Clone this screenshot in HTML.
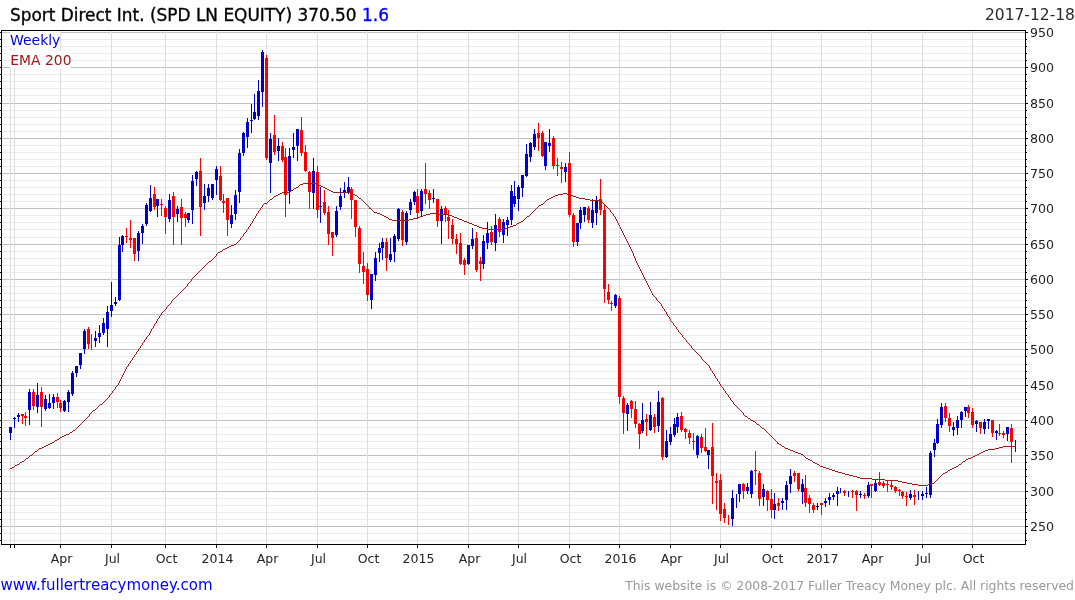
<!DOCTYPE html><html><head><meta charset="utf-8"><title>Sport Direct Int. chart</title><style>
html,body{margin:0;padding:0;background:#fff}body{width:1075px;height:600px;overflow:hidden;position:relative;font-family:"DejaVu Sans","Liberation Sans",sans-serif}
svg{position:absolute;left:0;top:0}text{font-family:"DejaVu Sans","Liberation Sans",sans-serif}
</style></head><body>
<svg width="1075" height="600" viewBox="0 0 1075 600">
<defs><mask id="tm"><rect x="0" y="0" width="1075" height="600" fill="#fff"/></mask></defs>
<rect x="0" y="0" width="1075" height="600" fill="#fff"/>
<g shape-rendering="crispEdges">
<rect x="2" y="540" width="1023" height="1" fill="#ececec"/>
<rect x="2" y="533" width="1023" height="1" fill="#ececec"/>
<rect x="2" y="519" width="1023" height="1" fill="#ececec"/>
<rect x="2" y="512" width="1023" height="1" fill="#ececec"/>
<rect x="2" y="505" width="1023" height="1" fill="#ececec"/>
<rect x="2" y="498" width="1023" height="1" fill="#ececec"/>
<rect x="2" y="483" width="1023" height="1" fill="#ececec"/>
<rect x="2" y="476" width="1023" height="1" fill="#ececec"/>
<rect x="2" y="469" width="1023" height="1" fill="#ececec"/>
<rect x="2" y="462" width="1023" height="1" fill="#ececec"/>
<rect x="2" y="448" width="1023" height="1" fill="#ececec"/>
<rect x="2" y="441" width="1023" height="1" fill="#ececec"/>
<rect x="2" y="434" width="1023" height="1" fill="#ececec"/>
<rect x="2" y="427" width="1023" height="1" fill="#ececec"/>
<rect x="2" y="413" width="1023" height="1" fill="#ececec"/>
<rect x="2" y="406" width="1023" height="1" fill="#ececec"/>
<rect x="2" y="399" width="1023" height="1" fill="#ececec"/>
<rect x="2" y="392" width="1023" height="1" fill="#ececec"/>
<rect x="2" y="378" width="1023" height="1" fill="#ececec"/>
<rect x="2" y="371" width="1023" height="1" fill="#ececec"/>
<rect x="2" y="364" width="1023" height="1" fill="#ececec"/>
<rect x="2" y="356" width="1023" height="1" fill="#ececec"/>
<rect x="2" y="342" width="1023" height="1" fill="#ececec"/>
<rect x="2" y="335" width="1023" height="1" fill="#ececec"/>
<rect x="2" y="328" width="1023" height="1" fill="#ececec"/>
<rect x="2" y="321" width="1023" height="1" fill="#ececec"/>
<rect x="2" y="307" width="1023" height="1" fill="#ececec"/>
<rect x="2" y="300" width="1023" height="1" fill="#ececec"/>
<rect x="2" y="293" width="1023" height="1" fill="#ececec"/>
<rect x="2" y="286" width="1023" height="1" fill="#ececec"/>
<rect x="2" y="272" width="1023" height="1" fill="#ececec"/>
<rect x="2" y="265" width="1023" height="1" fill="#ececec"/>
<rect x="2" y="258" width="1023" height="1" fill="#ececec"/>
<rect x="2" y="251" width="1023" height="1" fill="#ececec"/>
<rect x="2" y="237" width="1023" height="1" fill="#ececec"/>
<rect x="2" y="229" width="1023" height="1" fill="#ececec"/>
<rect x="2" y="222" width="1023" height="1" fill="#ececec"/>
<rect x="2" y="215" width="1023" height="1" fill="#ececec"/>
<rect x="2" y="201" width="1023" height="1" fill="#ececec"/>
<rect x="2" y="194" width="1023" height="1" fill="#ececec"/>
<rect x="2" y="187" width="1023" height="1" fill="#ececec"/>
<rect x="2" y="180" width="1023" height="1" fill="#ececec"/>
<rect x="2" y="166" width="1023" height="1" fill="#ececec"/>
<rect x="2" y="159" width="1023" height="1" fill="#ececec"/>
<rect x="2" y="152" width="1023" height="1" fill="#ececec"/>
<rect x="2" y="145" width="1023" height="1" fill="#ececec"/>
<rect x="2" y="131" width="1023" height="1" fill="#ececec"/>
<rect x="2" y="124" width="1023" height="1" fill="#ececec"/>
<rect x="2" y="117" width="1023" height="1" fill="#ececec"/>
<rect x="2" y="110" width="1023" height="1" fill="#ececec"/>
<rect x="2" y="95" width="1023" height="1" fill="#ececec"/>
<rect x="2" y="88" width="1023" height="1" fill="#ececec"/>
<rect x="2" y="81" width="1023" height="1" fill="#ececec"/>
<rect x="2" y="74" width="1023" height="1" fill="#ececec"/>
<rect x="2" y="60" width="1023" height="1" fill="#ececec"/>
<rect x="2" y="53" width="1023" height="1" fill="#ececec"/>
<rect x="2" y="46" width="1023" height="1" fill="#ececec"/>
<rect x="2" y="39" width="1023" height="1" fill="#ececec"/>
<rect x="2" y="526" width="1023" height="1" fill="#c0c0c0"/>
<rect x="2" y="491" width="1023" height="1" fill="#c0c0c0"/>
<rect x="2" y="455" width="1023" height="1" fill="#c0c0c0"/>
<rect x="2" y="420" width="1023" height="1" fill="#c0c0c0"/>
<rect x="2" y="385" width="1023" height="1" fill="#c0c0c0"/>
<rect x="2" y="349" width="1023" height="1" fill="#c0c0c0"/>
<rect x="2" y="314" width="1023" height="1" fill="#c0c0c0"/>
<rect x="2" y="279" width="1023" height="1" fill="#c0c0c0"/>
<rect x="2" y="244" width="1023" height="1" fill="#c0c0c0"/>
<rect x="2" y="208" width="1023" height="1" fill="#c0c0c0"/>
<rect x="2" y="173" width="1023" height="1" fill="#c0c0c0"/>
<rect x="2" y="138" width="1023" height="1" fill="#c0c0c0"/>
<rect x="2" y="103" width="1023" height="1" fill="#c0c0c0"/>
<rect x="2" y="67" width="1023" height="1" fill="#c0c0c0"/>
<rect x="2" y="32" width="1023" height="1" fill="#c0c0c0"/>
<rect x="10" y="31" width="1" height="513" fill="#dcdcdc"/>
<rect x="14" y="31" width="1" height="513" fill="#dcdcdc"/>
<rect x="60" y="31" width="1" height="513" fill="#dcdcdc"/>
<rect x="111" y="31" width="1" height="513" fill="#dcdcdc"/>
<rect x="165" y="31" width="1" height="513" fill="#dcdcdc"/>
<rect x="216" y="31" width="1" height="513" fill="#dcdcdc"/>
<rect x="266" y="31" width="1" height="513" fill="#dcdcdc"/>
<rect x="317" y="31" width="1" height="513" fill="#dcdcdc"/>
<rect x="367" y="31" width="1" height="513" fill="#dcdcdc"/>
<rect x="417" y="31" width="1" height="513" fill="#dcdcdc"/>
<rect x="468" y="31" width="1" height="513" fill="#dcdcdc"/>
<rect x="518" y="31" width="1" height="513" fill="#dcdcdc"/>
<rect x="569" y="31" width="1" height="513" fill="#dcdcdc"/>
<rect x="619" y="31" width="1" height="513" fill="#dcdcdc"/>
<rect x="670" y="31" width="1" height="513" fill="#dcdcdc"/>
<rect x="720" y="31" width="1" height="513" fill="#dcdcdc"/>
<rect x="771" y="31" width="1" height="513" fill="#dcdcdc"/>
<rect x="821" y="31" width="1" height="513" fill="#dcdcdc"/>
<rect x="871" y="31" width="1" height="513" fill="#dcdcdc"/>
<rect x="922" y="31" width="1" height="513" fill="#dcdcdc"/>
<rect x="972" y="31" width="1" height="513" fill="#dcdcdc"/>
<rect x="10" y="31" width="50" height="17" fill="#fff"/>
<rect x="10" y="51" width="61" height="17" fill="#fff"/>
</g>
<g shape-rendering="crispEdges">
<rect x="10" y="427" width="1" height="13" fill="#0000cc"/>
<rect x="9" y="427" width="3" height="6" fill="#0000cc"/>
<rect x="14" y="417" width="1" height="11" fill="#0000cc"/>
<rect x="13" y="418" width="3" height="1" fill="#0000cc"/>
<rect x="18" y="413" width="1" height="9" fill="#0000cc"/>
<rect x="17" y="415" width="3" height="2" fill="#0000cc"/>
<rect x="22" y="414" width="1" height="10" fill="#ff0000"/>
<rect x="21" y="414" width="3" height="2" fill="#ff0000"/>
<rect x="25" y="412" width="1" height="14" fill="#ff0000"/>
<rect x="24" y="416" width="3" height="2" fill="#ff0000"/>
<rect x="29" y="389" width="1" height="36" fill="#0000cc"/>
<rect x="28" y="392" width="3" height="18" fill="#0000cc"/>
<rect x="33" y="389" width="1" height="21" fill="#ff0000"/>
<rect x="32" y="392" width="3" height="14" fill="#ff0000"/>
<rect x="37" y="383" width="1" height="30" fill="#0000cc"/>
<rect x="36" y="395" width="3" height="12" fill="#0000cc"/>
<rect x="41" y="387" width="1" height="40" fill="#ff0000"/>
<rect x="40" y="392" width="3" height="15" fill="#ff0000"/>
<rect x="45" y="395" width="1" height="16" fill="#0000cc"/>
<rect x="44" y="399" width="3" height="10" fill="#0000cc"/>
<rect x="49" y="394" width="1" height="15" fill="#0000cc"/>
<rect x="48" y="403" width="3" height="5" fill="#0000cc"/>
<rect x="53" y="394" width="1" height="15" fill="#0000cc"/>
<rect x="52" y="397" width="3" height="6" fill="#0000cc"/>
<rect x="57" y="393" width="1" height="15" fill="#ff0000"/>
<rect x="56" y="397" width="3" height="5" fill="#ff0000"/>
<rect x="60" y="400" width="1" height="12" fill="#ff0000"/>
<rect x="59" y="403" width="3" height="5" fill="#ff0000"/>
<rect x="64" y="400" width="1" height="12" fill="#0000cc"/>
<rect x="63" y="401" width="3" height="10" fill="#0000cc"/>
<rect x="68" y="390" width="1" height="22" fill="#0000cc"/>
<rect x="67" y="392" width="3" height="10" fill="#0000cc"/>
<rect x="72" y="371" width="1" height="25" fill="#0000cc"/>
<rect x="71" y="373" width="3" height="21" fill="#0000cc"/>
<rect x="76" y="366" width="1" height="11" fill="#0000cc"/>
<rect x="75" y="366" width="3" height="7" fill="#0000cc"/>
<rect x="80" y="353" width="1" height="16" fill="#0000cc"/>
<rect x="79" y="353" width="3" height="12" fill="#0000cc"/>
<rect x="84" y="329" width="1" height="25" fill="#0000cc"/>
<rect x="83" y="331" width="3" height="18" fill="#0000cc"/>
<rect x="88" y="327" width="1" height="22" fill="#ff0000"/>
<rect x="87" y="329" width="3" height="15" fill="#ff0000"/>
<rect x="91" y="334" width="1" height="16" fill="#ff0000"/>
<rect x="95" y="331" width="1" height="16" fill="#0000cc"/>
<rect x="94" y="338" width="3" height="3" fill="#0000cc"/>
<rect x="99" y="325" width="1" height="18" fill="#0000cc"/>
<rect x="98" y="333" width="3" height="4" fill="#0000cc"/>
<rect x="103" y="318" width="1" height="17" fill="#0000cc"/>
<rect x="102" y="323" width="3" height="10" fill="#0000cc"/>
<rect x="107" y="306" width="1" height="41" fill="#0000cc"/>
<rect x="106" y="312" width="3" height="17" fill="#0000cc"/>
<rect x="111" y="282" width="1" height="35" fill="#0000cc"/>
<rect x="110" y="305" width="3" height="6" fill="#0000cc"/>
<rect x="115" y="297" width="1" height="9" fill="#0000cc"/>
<rect x="114" y="302" width="3" height="2" fill="#0000cc"/>
<rect x="119" y="237" width="1" height="64" fill="#0000cc"/>
<rect x="118" y="245" width="3" height="55" fill="#0000cc"/>
<rect x="122" y="235" width="1" height="17" fill="#0000cc"/>
<rect x="121" y="236" width="3" height="9" fill="#0000cc"/>
<rect x="126" y="228" width="1" height="15" fill="#ff0000"/>
<rect x="125" y="236" width="3" height="1" fill="#ff0000"/>
<rect x="130" y="220" width="1" height="28" fill="#ff0000"/>
<rect x="129" y="238" width="3" height="2" fill="#ff0000"/>
<rect x="134" y="238" width="1" height="23" fill="#ff0000"/>
<rect x="133" y="238" width="3" height="16" fill="#ff0000"/>
<rect x="138" y="231" width="1" height="30" fill="#0000cc"/>
<rect x="137" y="233" width="3" height="18" fill="#0000cc"/>
<rect x="142" y="224" width="1" height="20" fill="#0000cc"/>
<rect x="141" y="226" width="3" height="7" fill="#0000cc"/>
<rect x="146" y="203" width="1" height="23" fill="#0000cc"/>
<rect x="145" y="205" width="3" height="19" fill="#0000cc"/>
<rect x="150" y="185" width="1" height="27" fill="#0000cc"/>
<rect x="149" y="198" width="3" height="13" fill="#0000cc"/>
<rect x="154" y="187" width="1" height="23" fill="#ff0000"/>
<rect x="153" y="194" width="3" height="13" fill="#ff0000"/>
<rect x="157" y="199" width="1" height="18" fill="#0000cc"/>
<rect x="156" y="199" width="3" height="7" fill="#0000cc"/>
<rect x="161" y="199" width="1" height="17" fill="#ff0000"/>
<rect x="160" y="204" width="3" height="1" fill="#ff0000"/>
<rect x="165" y="206" width="1" height="28" fill="#ff0000"/>
<rect x="164" y="208" width="3" height="9" fill="#ff0000"/>
<rect x="169" y="194" width="1" height="28" fill="#0000cc"/>
<rect x="168" y="200" width="3" height="19" fill="#0000cc"/>
<rect x="173" y="192" width="1" height="53" fill="#ff0000"/>
<rect x="172" y="196" width="3" height="21" fill="#ff0000"/>
<rect x="177" y="206" width="1" height="16" fill="#0000cc"/>
<rect x="176" y="209" width="3" height="5" fill="#0000cc"/>
<rect x="181" y="199" width="1" height="46" fill="#ff0000"/>
<rect x="180" y="207" width="3" height="11" fill="#ff0000"/>
<rect x="185" y="212" width="1" height="15" fill="#ff0000"/>
<rect x="184" y="214" width="3" height="4" fill="#ff0000"/>
<rect x="188" y="213" width="1" height="10" fill="#0000cc"/>
<rect x="187" y="213" width="3" height="7" fill="#0000cc"/>
<rect x="192" y="175" width="1" height="49" fill="#0000cc"/>
<rect x="191" y="181" width="3" height="29" fill="#0000cc"/>
<rect x="196" y="171" width="1" height="15" fill="#0000cc"/>
<rect x="195" y="172" width="3" height="7" fill="#0000cc"/>
<rect x="200" y="158" width="1" height="78" fill="#ff0000"/>
<rect x="199" y="171" width="3" height="36" fill="#ff0000"/>
<rect x="204" y="184" width="1" height="26" fill="#0000cc"/>
<rect x="203" y="196" width="3" height="7" fill="#0000cc"/>
<rect x="208" y="184" width="1" height="18" fill="#0000cc"/>
<rect x="207" y="188" width="3" height="8" fill="#0000cc"/>
<rect x="212" y="184" width="1" height="16" fill="#0000cc"/>
<rect x="211" y="184" width="3" height="14" fill="#0000cc"/>
<rect x="216" y="166" width="1" height="29" fill="#0000cc"/>
<rect x="215" y="169" width="3" height="11" fill="#0000cc"/>
<rect x="220" y="166" width="1" height="35" fill="#ff0000"/>
<rect x="219" y="176" width="3" height="24" fill="#ff0000"/>
<rect x="223" y="194" width="1" height="19" fill="#ff0000"/>
<rect x="222" y="201" width="3" height="2" fill="#ff0000"/>
<rect x="227" y="198" width="1" height="38" fill="#ff0000"/>
<rect x="226" y="198" width="3" height="22" fill="#ff0000"/>
<rect x="231" y="205" width="1" height="23" fill="#0000cc"/>
<rect x="230" y="215" width="3" height="9" fill="#0000cc"/>
<rect x="235" y="190" width="1" height="30" fill="#0000cc"/>
<rect x="234" y="195" width="3" height="19" fill="#0000cc"/>
<rect x="239" y="149" width="1" height="54" fill="#0000cc"/>
<rect x="238" y="153" width="3" height="39" fill="#0000cc"/>
<rect x="243" y="132" width="1" height="24" fill="#0000cc"/>
<rect x="242" y="133" width="3" height="20" fill="#0000cc"/>
<rect x="247" y="118" width="1" height="30" fill="#0000cc"/>
<rect x="246" y="122" width="3" height="15" fill="#0000cc"/>
<rect x="251" y="104" width="1" height="29" fill="#0000cc"/>
<rect x="250" y="120" width="3" height="1" fill="#0000cc"/>
<rect x="254" y="94" width="1" height="26" fill="#0000cc"/>
<rect x="253" y="112" width="3" height="7" fill="#0000cc"/>
<rect x="258" y="80" width="1" height="40" fill="#0000cc"/>
<rect x="257" y="91" width="3" height="25" fill="#0000cc"/>
<rect x="262" y="50" width="1" height="57" fill="#0000cc"/>
<rect x="261" y="52" width="3" height="40" fill="#0000cc"/>
<rect x="266" y="55" width="1" height="105" fill="#ff0000"/>
<rect x="265" y="58" width="3" height="100" fill="#ff0000"/>
<rect x="270" y="133" width="1" height="60" fill="#0000cc"/>
<rect x="269" y="139" width="3" height="24" fill="#0000cc"/>
<rect x="274" y="115" width="1" height="40" fill="#ff0000"/>
<rect x="273" y="135" width="3" height="17" fill="#ff0000"/>
<rect x="278" y="138" width="1" height="23" fill="#0000cc"/>
<rect x="277" y="146" width="3" height="5" fill="#0000cc"/>
<rect x="282" y="142" width="1" height="20" fill="#ff0000"/>
<rect x="281" y="146" width="3" height="14" fill="#ff0000"/>
<rect x="285" y="148" width="1" height="69" fill="#ff0000"/>
<rect x="284" y="157" width="3" height="38" fill="#ff0000"/>
<rect x="289" y="148" width="1" height="56" fill="#0000cc"/>
<rect x="288" y="156" width="3" height="35" fill="#0000cc"/>
<rect x="293" y="133" width="1" height="25" fill="#0000cc"/>
<rect x="292" y="147" width="3" height="3" fill="#0000cc"/>
<rect x="297" y="129" width="1" height="32" fill="#0000cc"/>
<rect x="296" y="129" width="3" height="17" fill="#0000cc"/>
<rect x="301" y="117" width="1" height="39" fill="#ff0000"/>
<rect x="300" y="130" width="3" height="23" fill="#ff0000"/>
<rect x="305" y="145" width="1" height="27" fill="#ff0000"/>
<rect x="304" y="152" width="3" height="19" fill="#ff0000"/>
<rect x="309" y="171" width="1" height="38" fill="#ff0000"/>
<rect x="308" y="172" width="3" height="20" fill="#ff0000"/>
<rect x="313" y="158" width="1" height="51" fill="#0000cc"/>
<rect x="312" y="171" width="3" height="22" fill="#0000cc"/>
<rect x="317" y="166" width="1" height="52" fill="#ff0000"/>
<rect x="316" y="172" width="3" height="38" fill="#ff0000"/>
<rect x="320" y="187" width="1" height="36" fill="#0000cc"/>
<rect x="319" y="206" width="3" height="1" fill="#0000cc"/>
<rect x="324" y="190" width="1" height="25" fill="#ff0000"/>
<rect x="323" y="202" width="3" height="11" fill="#ff0000"/>
<rect x="328" y="206" width="1" height="39" fill="#ff0000"/>
<rect x="327" y="212" width="3" height="22" fill="#ff0000"/>
<rect x="332" y="232" width="1" height="24" fill="#ff0000"/>
<rect x="331" y="232" width="3" height="6" fill="#ff0000"/>
<rect x="336" y="206" width="1" height="31" fill="#0000cc"/>
<rect x="335" y="211" width="3" height="24" fill="#0000cc"/>
<rect x="340" y="188" width="1" height="22" fill="#0000cc"/>
<rect x="339" y="196" width="3" height="11" fill="#0000cc"/>
<rect x="344" y="182" width="1" height="16" fill="#0000cc"/>
<rect x="343" y="190" width="3" height="2" fill="#0000cc"/>
<rect x="348" y="177" width="1" height="17" fill="#0000cc"/>
<rect x="347" y="187" width="3" height="5" fill="#0000cc"/>
<rect x="351" y="187" width="1" height="32" fill="#ff0000"/>
<rect x="350" y="189" width="3" height="11" fill="#ff0000"/>
<rect x="355" y="200" width="1" height="37" fill="#ff0000"/>
<rect x="354" y="200" width="3" height="27" fill="#ff0000"/>
<rect x="359" y="226" width="1" height="47" fill="#ff0000"/>
<rect x="358" y="228" width="3" height="36" fill="#ff0000"/>
<rect x="363" y="252" width="1" height="32" fill="#ff0000"/>
<rect x="362" y="266" width="3" height="6" fill="#ff0000"/>
<rect x="367" y="263" width="1" height="38" fill="#ff0000"/>
<rect x="366" y="269" width="3" height="26" fill="#ff0000"/>
<rect x="371" y="274" width="1" height="35" fill="#0000cc"/>
<rect x="370" y="274" width="3" height="26" fill="#0000cc"/>
<rect x="375" y="252" width="1" height="29" fill="#0000cc"/>
<rect x="374" y="258" width="3" height="17" fill="#0000cc"/>
<rect x="379" y="243" width="1" height="19" fill="#0000cc"/>
<rect x="378" y="248" width="3" height="5" fill="#0000cc"/>
<rect x="382" y="238" width="1" height="22" fill="#0000cc"/>
<rect x="381" y="242" width="3" height="6" fill="#0000cc"/>
<rect x="386" y="238" width="1" height="33" fill="#ff0000"/>
<rect x="385" y="242" width="3" height="16" fill="#ff0000"/>
<rect x="390" y="238" width="1" height="24" fill="#0000cc"/>
<rect x="389" y="254" width="3" height="6" fill="#0000cc"/>
<rect x="394" y="234" width="1" height="28" fill="#0000cc"/>
<rect x="393" y="236" width="3" height="16" fill="#0000cc"/>
<rect x="398" y="208" width="1" height="33" fill="#0000cc"/>
<rect x="397" y="209" width="3" height="30" fill="#0000cc"/>
<rect x="402" y="210" width="1" height="36" fill="#ff0000"/>
<rect x="401" y="212" width="3" height="28" fill="#ff0000"/>
<rect x="406" y="211" width="1" height="34" fill="#0000cc"/>
<rect x="405" y="213" width="3" height="29" fill="#0000cc"/>
<rect x="410" y="199" width="1" height="16" fill="#0000cc"/>
<rect x="409" y="202" width="3" height="8" fill="#0000cc"/>
<rect x="414" y="191" width="1" height="14" fill="#0000cc"/>
<rect x="413" y="192" width="3" height="10" fill="#0000cc"/>
<rect x="417" y="189" width="1" height="29" fill="#ff0000"/>
<rect x="416" y="196" width="3" height="17" fill="#ff0000"/>
<rect x="421" y="189" width="1" height="27" fill="#0000cc"/>
<rect x="420" y="191" width="3" height="20" fill="#0000cc"/>
<rect x="425" y="163" width="1" height="41" fill="#ff0000"/>
<rect x="424" y="189" width="3" height="5" fill="#ff0000"/>
<rect x="429" y="190" width="1" height="19" fill="#ff0000"/>
<rect x="428" y="193" width="3" height="7" fill="#ff0000"/>
<rect x="433" y="189" width="1" height="14" fill="#0000cc"/>
<rect x="432" y="198" width="3" height="1" fill="#0000cc"/>
<rect x="437" y="199" width="1" height="28" fill="#ff0000"/>
<rect x="436" y="199" width="3" height="22" fill="#ff0000"/>
<rect x="441" y="206" width="1" height="38" fill="#0000cc"/>
<rect x="440" y="209" width="3" height="12" fill="#0000cc"/>
<rect x="445" y="206" width="1" height="16" fill="#ff0000"/>
<rect x="444" y="208" width="3" height="6" fill="#ff0000"/>
<rect x="448" y="210" width="1" height="29" fill="#ff0000"/>
<rect x="447" y="217" width="3" height="4" fill="#ff0000"/>
<rect x="452" y="219" width="1" height="25" fill="#ff0000"/>
<rect x="451" y="225" width="3" height="14" fill="#ff0000"/>
<rect x="456" y="234" width="1" height="20" fill="#ff0000"/>
<rect x="455" y="239" width="3" height="5" fill="#ff0000"/>
<rect x="460" y="233" width="1" height="32" fill="#ff0000"/>
<rect x="459" y="243" width="3" height="21" fill="#ff0000"/>
<rect x="464" y="258" width="1" height="17" fill="#ff0000"/>
<rect x="463" y="260" width="3" height="5" fill="#ff0000"/>
<rect x="468" y="245" width="1" height="20" fill="#0000cc"/>
<rect x="467" y="245" width="3" height="19" fill="#0000cc"/>
<rect x="472" y="228" width="1" height="21" fill="#0000cc"/>
<rect x="471" y="239" width="3" height="7" fill="#0000cc"/>
<rect x="476" y="232" width="1" height="40" fill="#ff0000"/>
<rect x="475" y="238" width="3" height="32" fill="#ff0000"/>
<rect x="480" y="257" width="1" height="24" fill="#ff0000"/>
<rect x="479" y="261" width="3" height="3" fill="#ff0000"/>
<rect x="483" y="235" width="1" height="34" fill="#0000cc"/>
<rect x="482" y="241" width="3" height="23" fill="#0000cc"/>
<rect x="487" y="222" width="1" height="27" fill="#0000cc"/>
<rect x="486" y="233" width="3" height="10" fill="#0000cc"/>
<rect x="491" y="226" width="1" height="19" fill="#ff0000"/>
<rect x="490" y="232" width="3" height="10" fill="#ff0000"/>
<rect x="495" y="214" width="1" height="37" fill="#0000cc"/>
<rect x="494" y="225" width="3" height="18" fill="#0000cc"/>
<rect x="499" y="217" width="1" height="20" fill="#ff0000"/>
<rect x="498" y="219" width="3" height="13" fill="#ff0000"/>
<rect x="503" y="219" width="1" height="24" fill="#0000cc"/>
<rect x="502" y="222" width="3" height="13" fill="#0000cc"/>
<rect x="507" y="217" width="1" height="19" fill="#0000cc"/>
<rect x="506" y="220" width="3" height="5" fill="#0000cc"/>
<rect x="511" y="185" width="1" height="40" fill="#0000cc"/>
<rect x="510" y="191" width="3" height="29" fill="#0000cc"/>
<rect x="514" y="181" width="1" height="26" fill="#0000cc"/>
<rect x="513" y="196" width="3" height="8" fill="#0000cc"/>
<rect x="518" y="185" width="1" height="26" fill="#0000cc"/>
<rect x="517" y="187" width="3" height="12" fill="#0000cc"/>
<rect x="522" y="175" width="1" height="22" fill="#0000cc"/>
<rect x="521" y="175" width="3" height="13" fill="#0000cc"/>
<rect x="526" y="144" width="1" height="33" fill="#0000cc"/>
<rect x="525" y="154" width="3" height="22" fill="#0000cc"/>
<rect x="530" y="142" width="1" height="20" fill="#0000cc"/>
<rect x="529" y="143" width="3" height="14" fill="#0000cc"/>
<rect x="534" y="129" width="1" height="21" fill="#0000cc"/>
<rect x="533" y="134" width="3" height="13" fill="#0000cc"/>
<rect x="538" y="123" width="1" height="28" fill="#ff0000"/>
<rect x="537" y="133" width="3" height="5" fill="#ff0000"/>
<rect x="542" y="131" width="1" height="26" fill="#ff0000"/>
<rect x="541" y="133" width="3" height="23" fill="#ff0000"/>
<rect x="545" y="142" width="1" height="28" fill="#0000cc"/>
<rect x="544" y="142" width="3" height="24" fill="#0000cc"/>
<rect x="549" y="129" width="1" height="23" fill="#0000cc"/>
<rect x="548" y="143" width="3" height="3" fill="#0000cc"/>
<rect x="553" y="136" width="1" height="33" fill="#ff0000"/>
<rect x="552" y="138" width="3" height="28" fill="#ff0000"/>
<rect x="557" y="158" width="1" height="18" fill="#ff0000"/>
<rect x="556" y="165" width="3" height="1" fill="#ff0000"/>
<rect x="561" y="162" width="1" height="21" fill="#ff0000"/>
<rect x="560" y="167" width="3" height="2" fill="#ff0000"/>
<rect x="565" y="163" width="1" height="19" fill="#0000cc"/>
<rect x="564" y="167" width="3" height="5" fill="#0000cc"/>
<rect x="569" y="152" width="1" height="65" fill="#ff0000"/>
<rect x="568" y="163" width="3" height="52" fill="#ff0000"/>
<rect x="573" y="213" width="1" height="34" fill="#ff0000"/>
<rect x="572" y="215" width="3" height="27" fill="#ff0000"/>
<rect x="577" y="223" width="1" height="23" fill="#0000cc"/>
<rect x="576" y="223" width="3" height="19" fill="#0000cc"/>
<rect x="580" y="207" width="1" height="22" fill="#0000cc"/>
<rect x="579" y="210" width="3" height="13" fill="#0000cc"/>
<rect x="584" y="207" width="1" height="15" fill="#0000cc"/>
<rect x="583" y="207" width="3" height="8" fill="#0000cc"/>
<rect x="588" y="206" width="1" height="17" fill="#ff0000"/>
<rect x="587" y="208" width="3" height="12" fill="#ff0000"/>
<rect x="592" y="199" width="1" height="29" fill="#0000cc"/>
<rect x="591" y="210" width="3" height="13" fill="#0000cc"/>
<rect x="596" y="196" width="1" height="29" fill="#0000cc"/>
<rect x="595" y="201" width="3" height="12" fill="#0000cc"/>
<rect x="600" y="179" width="1" height="36" fill="#ff0000"/>
<rect x="599" y="199" width="3" height="11" fill="#ff0000"/>
<rect x="604" y="204" width="1" height="99" fill="#ff0000"/>
<rect x="603" y="210" width="3" height="79" fill="#ff0000"/>
<rect x="608" y="284" width="1" height="20" fill="#ff0000"/>
<rect x="607" y="292" width="3" height="8" fill="#ff0000"/>
<rect x="611" y="301" width="1" height="10" fill="#ff0000"/>
<rect x="610" y="303" width="3" height="1" fill="#ff0000"/>
<rect x="615" y="294" width="1" height="14" fill="#0000cc"/>
<rect x="614" y="295" width="3" height="11" fill="#0000cc"/>
<rect x="619" y="296" width="1" height="108" fill="#ff0000"/>
<rect x="618" y="298" width="3" height="99" fill="#ff0000"/>
<rect x="623" y="396" width="1" height="38" fill="#ff0000"/>
<rect x="622" y="398" width="3" height="15" fill="#ff0000"/>
<rect x="627" y="403" width="1" height="28" fill="#0000cc"/>
<rect x="626" y="405" width="3" height="9" fill="#0000cc"/>
<rect x="631" y="400" width="1" height="18" fill="#ff0000"/>
<rect x="630" y="401" width="3" height="8" fill="#ff0000"/>
<rect x="635" y="401" width="1" height="27" fill="#ff0000"/>
<rect x="634" y="409" width="3" height="15" fill="#ff0000"/>
<rect x="639" y="423" width="1" height="26" fill="#ff0000"/>
<rect x="638" y="424" width="3" height="10" fill="#ff0000"/>
<rect x="642" y="403" width="1" height="30" fill="#0000cc"/>
<rect x="641" y="420" width="3" height="11" fill="#0000cc"/>
<rect x="646" y="414" width="1" height="22" fill="#ff0000"/>
<rect x="645" y="419" width="3" height="3" fill="#ff0000"/>
<rect x="650" y="402" width="1" height="29" fill="#0000cc"/>
<rect x="649" y="415" width="3" height="15" fill="#0000cc"/>
<rect x="654" y="414" width="1" height="19" fill="#ff0000"/>
<rect x="653" y="417" width="3" height="10" fill="#ff0000"/>
<rect x="658" y="391" width="1" height="41" fill="#0000cc"/>
<rect x="657" y="402" width="3" height="24" fill="#0000cc"/>
<rect x="662" y="397" width="1" height="63" fill="#ff0000"/>
<rect x="661" y="398" width="3" height="59" fill="#ff0000"/>
<rect x="666" y="430" width="1" height="28" fill="#0000cc"/>
<rect x="665" y="441" width="3" height="16" fill="#0000cc"/>
<rect x="670" y="427" width="1" height="18" fill="#0000cc"/>
<rect x="669" y="434" width="3" height="8" fill="#0000cc"/>
<rect x="674" y="418" width="1" height="19" fill="#0000cc"/>
<rect x="673" y="424" width="3" height="11" fill="#0000cc"/>
<rect x="677" y="413" width="1" height="20" fill="#0000cc"/>
<rect x="676" y="417" width="3" height="10" fill="#0000cc"/>
<rect x="681" y="412" width="1" height="20" fill="#ff0000"/>
<rect x="680" y="416" width="3" height="14" fill="#ff0000"/>
<rect x="685" y="428" width="1" height="11" fill="#ff0000"/>
<rect x="684" y="429" width="3" height="3" fill="#ff0000"/>
<rect x="689" y="430" width="1" height="14" fill="#ff0000"/>
<rect x="688" y="433" width="3" height="5" fill="#ff0000"/>
<rect x="693" y="433" width="1" height="17" fill="#ff0000"/>
<rect x="692" y="441" width="3" height="1" fill="#ff0000"/>
<rect x="697" y="435" width="1" height="23" fill="#0000cc"/>
<rect x="696" y="436" width="3" height="19" fill="#0000cc"/>
<rect x="701" y="434" width="1" height="19" fill="#ff0000"/>
<rect x="700" y="437" width="3" height="11" fill="#ff0000"/>
<rect x="705" y="428" width="1" height="24" fill="#ff0000"/>
<rect x="704" y="447" width="3" height="4" fill="#ff0000"/>
<rect x="708" y="450" width="1" height="19" fill="#0000cc"/>
<rect x="707" y="450" width="3" height="5" fill="#0000cc"/>
<rect x="712" y="423" width="1" height="81" fill="#ff0000"/>
<rect x="711" y="447" width="3" height="29" fill="#ff0000"/>
<rect x="716" y="473" width="1" height="37" fill="#ff0000"/>
<rect x="715" y="481" width="3" height="2" fill="#ff0000"/>
<rect x="720" y="474" width="1" height="47" fill="#ff0000"/>
<rect x="719" y="480" width="3" height="34" fill="#ff0000"/>
<rect x="724" y="503" width="1" height="20" fill="#ff0000"/>
<rect x="723" y="509" width="3" height="9" fill="#ff0000"/>
<rect x="728" y="515" width="1" height="10" fill="#ff0000"/>
<rect x="732" y="490" width="1" height="36" fill="#0000cc"/>
<rect x="731" y="498" width="3" height="21" fill="#0000cc"/>
<rect x="736" y="494" width="1" height="14" fill="#0000cc"/>
<rect x="739" y="484" width="1" height="18" fill="#0000cc"/>
<rect x="738" y="484" width="3" height="10" fill="#0000cc"/>
<rect x="743" y="483" width="1" height="16" fill="#ff0000"/>
<rect x="742" y="484" width="3" height="7" fill="#ff0000"/>
<rect x="747" y="483" width="1" height="11" fill="#0000cc"/>
<rect x="746" y="487" width="3" height="4" fill="#0000cc"/>
<rect x="751" y="470" width="1" height="28" fill="#0000cc"/>
<rect x="750" y="471" width="3" height="23" fill="#0000cc"/>
<rect x="755" y="451" width="1" height="34" fill="#ff0000"/>
<rect x="754" y="470" width="3" height="1" fill="#ff0000"/>
<rect x="759" y="471" width="1" height="35" fill="#ff0000"/>
<rect x="758" y="473" width="3" height="26" fill="#ff0000"/>
<rect x="763" y="484" width="1" height="22" fill="#0000cc"/>
<rect x="762" y="489" width="3" height="8" fill="#0000cc"/>
<rect x="767" y="490" width="1" height="21" fill="#ff0000"/>
<rect x="766" y="491" width="3" height="9" fill="#ff0000"/>
<rect x="771" y="489" width="1" height="29" fill="#ff0000"/>
<rect x="770" y="499" width="3" height="11" fill="#ff0000"/>
<rect x="774" y="493" width="1" height="26" fill="#0000cc"/>
<rect x="773" y="504" width="3" height="6" fill="#0000cc"/>
<rect x="778" y="498" width="1" height="13" fill="#ff0000"/>
<rect x="777" y="503" width="3" height="3" fill="#ff0000"/>
<rect x="782" y="498" width="1" height="12" fill="#0000cc"/>
<rect x="781" y="501" width="3" height="2" fill="#0000cc"/>
<rect x="786" y="481" width="1" height="29" fill="#0000cc"/>
<rect x="785" y="485" width="3" height="15" fill="#0000cc"/>
<rect x="790" y="469" width="1" height="24" fill="#0000cc"/>
<rect x="789" y="476" width="3" height="8" fill="#0000cc"/>
<rect x="794" y="471" width="1" height="11" fill="#ff0000"/>
<rect x="793" y="473" width="3" height="3" fill="#ff0000"/>
<rect x="798" y="473" width="1" height="18" fill="#ff0000"/>
<rect x="797" y="473" width="3" height="16" fill="#ff0000"/>
<rect x="802" y="479" width="1" height="25" fill="#0000cc"/>
<rect x="801" y="484" width="3" height="8" fill="#0000cc"/>
<rect x="805" y="475" width="1" height="32" fill="#ff0000"/>
<rect x="804" y="488" width="3" height="15" fill="#ff0000"/>
<rect x="809" y="495" width="1" height="18" fill="#ff0000"/>
<rect x="808" y="498" width="3" height="6" fill="#ff0000"/>
<rect x="813" y="503" width="1" height="10" fill="#ff0000"/>
<rect x="812" y="505" width="3" height="5" fill="#ff0000"/>
<rect x="817" y="503" width="1" height="7" fill="#0000cc"/>
<rect x="816" y="506" width="3" height="1" fill="#0000cc"/>
<rect x="821" y="503" width="1" height="12" fill="#ff0000"/>
<rect x="820" y="503" width="3" height="2" fill="#ff0000"/>
<rect x="825" y="498" width="1" height="9" fill="#0000cc"/>
<rect x="824" y="501" width="3" height="2" fill="#0000cc"/>
<rect x="829" y="493" width="1" height="12" fill="#0000cc"/>
<rect x="828" y="497" width="3" height="3" fill="#0000cc"/>
<rect x="833" y="493" width="1" height="7" fill="#0000cc"/>
<rect x="832" y="495" width="3" height="2" fill="#0000cc"/>
<rect x="837" y="487" width="1" height="19" fill="#0000cc"/>
<rect x="836" y="491" width="3" height="3" fill="#0000cc"/>
<rect x="840" y="488" width="1" height="5" fill="#0000cc"/>
<rect x="844" y="490" width="1" height="6" fill="#ff0000"/>
<rect x="843" y="491" width="3" height="2" fill="#ff0000"/>
<rect x="848" y="491" width="1" height="6" fill="#0000cc"/>
<rect x="852" y="490" width="1" height="8" fill="#ff0000"/>
<rect x="851" y="491" width="3" height="1" fill="#ff0000"/>
<rect x="856" y="490" width="1" height="21" fill="#ff0000"/>
<rect x="855" y="491" width="3" height="4" fill="#ff0000"/>
<rect x="860" y="491" width="1" height="7" fill="#0000cc"/>
<rect x="859" y="494" width="3" height="1" fill="#0000cc"/>
<rect x="864" y="493" width="1" height="6" fill="#ff0000"/>
<rect x="863" y="495" width="3" height="1" fill="#ff0000"/>
<rect x="868" y="482" width="1" height="16" fill="#0000cc"/>
<rect x="867" y="485" width="3" height="11" fill="#0000cc"/>
<rect x="871" y="484" width="1" height="14" fill="#ff0000"/>
<rect x="870" y="484" width="3" height="2" fill="#ff0000"/>
<rect x="875" y="480" width="1" height="12" fill="#0000cc"/>
<rect x="874" y="483" width="3" height="8" fill="#0000cc"/>
<rect x="879" y="472" width="1" height="14" fill="#ff0000"/>
<rect x="878" y="482" width="3" height="3" fill="#ff0000"/>
<rect x="883" y="481" width="1" height="7" fill="#ff0000"/>
<rect x="882" y="483" width="3" height="3" fill="#ff0000"/>
<rect x="887" y="481" width="1" height="11" fill="#ff0000"/>
<rect x="886" y="484" width="3" height="1" fill="#ff0000"/>
<rect x="891" y="481" width="1" height="9" fill="#ff0000"/>
<rect x="890" y="485" width="3" height="2" fill="#ff0000"/>
<rect x="895" y="486" width="1" height="7" fill="#ff0000"/>
<rect x="894" y="487" width="3" height="4" fill="#ff0000"/>
<rect x="899" y="489" width="1" height="7" fill="#ff0000"/>
<rect x="898" y="490" width="3" height="1" fill="#ff0000"/>
<rect x="902" y="491" width="1" height="8" fill="#ff0000"/>
<rect x="901" y="492" width="3" height="4" fill="#ff0000"/>
<rect x="906" y="492" width="1" height="14" fill="#ff0000"/>
<rect x="905" y="496" width="3" height="1" fill="#ff0000"/>
<rect x="910" y="490" width="1" height="10" fill="#0000cc"/>
<rect x="909" y="494" width="3" height="4" fill="#0000cc"/>
<rect x="914" y="490" width="1" height="15" fill="#ff0000"/>
<rect x="913" y="495" width="3" height="2" fill="#ff0000"/>
<rect x="918" y="491" width="1" height="9" fill="#0000cc"/>
<rect x="922" y="491" width="1" height="9" fill="#0000cc"/>
<rect x="921" y="494" width="3" height="2" fill="#0000cc"/>
<rect x="926" y="487" width="1" height="11" fill="#0000cc"/>
<rect x="925" y="493" width="3" height="1" fill="#0000cc"/>
<rect x="930" y="451" width="1" height="47" fill="#0000cc"/>
<rect x="929" y="453" width="3" height="42" fill="#0000cc"/>
<rect x="934" y="439" width="1" height="18" fill="#0000cc"/>
<rect x="933" y="443" width="3" height="7" fill="#0000cc"/>
<rect x="937" y="419" width="1" height="25" fill="#0000cc"/>
<rect x="936" y="424" width="3" height="19" fill="#0000cc"/>
<rect x="941" y="403" width="1" height="25" fill="#0000cc"/>
<rect x="940" y="407" width="3" height="18" fill="#0000cc"/>
<rect x="945" y="403" width="1" height="19" fill="#ff0000"/>
<rect x="944" y="406" width="3" height="12" fill="#ff0000"/>
<rect x="949" y="413" width="1" height="19" fill="#ff0000"/>
<rect x="948" y="418" width="3" height="8" fill="#ff0000"/>
<rect x="953" y="422" width="1" height="14" fill="#0000cc"/>
<rect x="952" y="427" width="3" height="3" fill="#0000cc"/>
<rect x="957" y="416" width="1" height="19" fill="#0000cc"/>
<rect x="956" y="420" width="3" height="8" fill="#0000cc"/>
<rect x="961" y="411" width="1" height="17" fill="#0000cc"/>
<rect x="960" y="412" width="3" height="8" fill="#0000cc"/>
<rect x="965" y="407" width="1" height="10" fill="#0000cc"/>
<rect x="964" y="407" width="3" height="4" fill="#0000cc"/>
<rect x="968" y="405" width="1" height="13" fill="#ff0000"/>
<rect x="967" y="407" width="3" height="6" fill="#ff0000"/>
<rect x="972" y="408" width="1" height="20" fill="#ff0000"/>
<rect x="971" y="412" width="3" height="13" fill="#ff0000"/>
<rect x="976" y="420" width="1" height="12" fill="#0000cc"/>
<rect x="975" y="421" width="3" height="3" fill="#0000cc"/>
<rect x="980" y="422" width="1" height="12" fill="#ff0000"/>
<rect x="979" y="422" width="3" height="6" fill="#ff0000"/>
<rect x="984" y="419" width="1" height="15" fill="#0000cc"/>
<rect x="983" y="422" width="3" height="7" fill="#0000cc"/>
<rect x="988" y="419" width="1" height="10" fill="#0000cc"/>
<rect x="987" y="419" width="3" height="2" fill="#0000cc"/>
<rect x="992" y="420" width="1" height="17" fill="#ff0000"/>
<rect x="991" y="420" width="3" height="13" fill="#ff0000"/>
<rect x="996" y="430" width="1" height="10" fill="#0000cc"/>
<rect x="995" y="431" width="3" height="2" fill="#0000cc"/>
<rect x="999" y="424" width="1" height="12" fill="#ff0000"/>
<rect x="998" y="433" width="3" height="1" fill="#ff0000"/>
<rect x="1003" y="431" width="1" height="7" fill="#ff0000"/>
<rect x="1002" y="433" width="3" height="2" fill="#ff0000"/>
<rect x="1007" y="427" width="1" height="14" fill="#0000cc"/>
<rect x="1006" y="427" width="3" height="7" fill="#0000cc"/>
<rect x="1011" y="424" width="1" height="39" fill="#ff0000"/>
<rect x="1010" y="428" width="3" height="14" fill="#ff0000"/>
<rect x="1015" y="440" width="1" height="12" fill="#0000cc"/>
<path d="M10 468h1v1h-1zM11 468h1v1h-1zM12 467h1v1h-1zM13 467h1v1h-1zM14 466h1v1h-1zM15 465h1v1h-1zM16 465h1v1h-1zM17 464h1v1h-1zM18 464h1v1h-1zM19 463h1v1h-1zM20 462h1v1h-1zM21 462h1v1h-1zM22 461h1v1h-1zM23 461h1v1h-1zM24 460h1v1h-1zM25 459h1v1h-1zM26 458h1v1h-1zM27 458h1v1h-1zM28 457h1v1h-1zM29 456h1v1h-1zM30 455h1v1h-1zM31 455h1v1h-1zM32 454h1v1h-1zM33 453h1v1h-1zM34 452h1v1h-1zM35 451h1v1h-1zM36 451h1v1h-1zM37 450h1v1h-1zM38 449h1v1h-1zM39 448h1v1h-1zM40 448h1v1h-1zM41 448h1v1h-1zM42 447h1v1h-1zM43 447h1v1h-1zM44 446h1v1h-1zM45 446h1v1h-1zM46 445h1v1h-1zM47 445h1v1h-1zM48 444h1v1h-1zM49 444h1v1h-1zM50 443h1v1h-1zM51 443h1v1h-1zM52 442h1v1h-1zM53 442h1v1h-1zM54 441h1v1h-1zM55 440h1v1h-1zM56 440h1v1h-1zM57 439h1v1h-1zM58 439h1v1h-1zM59 438h1v1h-1zM60 437h1v1h-1zM61 437h1v1h-1zM62 436h1v1h-1zM63 436h1v1h-1zM64 435h1v1h-1zM65 435h1v1h-1zM66 434h1v1h-1zM67 434h1v1h-1zM68 434h1v1h-1zM69 433h1v1h-1zM70 432h1v1h-1zM71 432h1v1h-1zM72 431h1v1h-1zM73 430h1v1h-1zM74 430h1v1h-1zM75 429h1v1h-1zM76 428h1v1h-1zM77 427h1v1h-1zM78 426h1v1h-1zM79 425h1v1h-1zM80 424h1v1h-1zM81 423h1v1h-1zM82 422h1v1h-1zM83 421h1v1h-1zM84 420h1v1h-1zM85 419h1v1h-1zM86 418h1v1h-1zM87 417h1v1h-1zM88 416h1v1h-1zM89 414h1v2h-1zM90 413h1v1h-1zM91 412h1v1h-1zM92 411h1v1h-1zM93 410h1v1h-1zM94 410h1v1h-1zM95 409h1v1h-1zM96 408h1v1h-1zM97 407h1v1h-1zM98 406h1v1h-1zM99 405h1v1h-1zM100 404h1v1h-1zM101 404h1v1h-1zM102 403h1v1h-1zM103 402h1v1h-1zM104 401h1v1h-1zM105 400h1v1h-1zM106 399h1v1h-1zM107 398h1v1h-1zM108 397h1v1h-1zM109 395h1v2h-1zM110 394h1v1h-1zM111 393h1v1h-1zM112 391h1v2h-1zM113 390h1v1h-1zM114 389h1v1h-1zM115 387h1v2h-1zM116 386h1v1h-1zM117 385h1v1h-1zM118 383h1v2h-1zM119 381h1v2h-1zM120 379h1v2h-1zM121 377h1v2h-1zM122 375h1v2h-1zM123 373h1v2h-1zM124 371h1v2h-1zM125 369h1v2h-1zM126 367h1v2h-1zM127 366h1v1h-1zM128 364h1v2h-1zM129 363h1v1h-1zM130 361h1v2h-1zM131 360h1v1h-1zM132 358h1v2h-1zM133 357h1v1h-1zM134 355h1v2h-1zM135 354h1v1h-1zM136 352h1v2h-1zM137 351h1v1h-1zM138 349h1v2h-1zM139 348h1v1h-1zM140 346h1v2h-1zM141 345h1v1h-1zM142 343h1v2h-1zM143 342h1v1h-1zM144 340h1v2h-1zM145 339h1v1h-1zM146 337h1v2h-1zM147 336h1v1h-1zM148 335h1v1h-1zM149 333h1v2h-1zM150 331h1v2h-1zM151 329h1v2h-1zM152 328h1v1h-1zM153 326h1v2h-1zM154 324h1v2h-1zM155 323h1v1h-1zM156 321h1v2h-1zM157 319h1v2h-1zM158 318h1v1h-1zM159 316h1v2h-1zM160 315h1v1h-1zM161 313h1v2h-1zM162 312h1v1h-1zM163 311h1v1h-1zM164 310h1v1h-1zM165 309h1v1h-1zM166 307h1v2h-1zM167 306h1v1h-1zM168 305h1v1h-1zM169 304h1v1h-1zM170 303h1v1h-1zM171 301h1v2h-1zM172 300h1v1h-1zM173 299h1v1h-1zM174 298h1v1h-1zM175 297h1v1h-1zM176 296h1v1h-1zM177 295h1v1h-1zM178 294h1v1h-1zM179 293h1v1h-1zM180 292h1v1h-1zM181 291h1v1h-1zM182 290h1v1h-1zM183 289h1v1h-1zM184 288h1v1h-1zM185 287h1v1h-1zM186 286h1v1h-1zM187 284h1v2h-1zM188 283h1v1h-1zM189 282h1v1h-1zM190 281h1v1h-1zM191 279h1v2h-1zM192 278h1v1h-1zM193 277h1v1h-1zM194 276h1v1h-1zM195 275h1v1h-1zM196 274h1v1h-1zM197 273h1v1h-1zM198 272h1v1h-1zM199 271h1v1h-1zM200 270h1v1h-1zM201 269h1v1h-1zM202 268h1v1h-1zM203 267h1v1h-1zM204 266h1v1h-1zM205 265h1v1h-1zM206 264h1v1h-1zM207 263h1v1h-1zM208 262h1v1h-1zM209 261h1v1h-1zM210 261h1v1h-1zM211 260h1v1h-1zM212 259h1v1h-1zM213 258h1v1h-1zM214 257h1v1h-1zM215 256h1v1h-1zM216 254h1v2h-1zM217 253h1v1h-1zM218 252h1v1h-1zM219 252h1v1h-1zM220 251h1v1h-1zM221 251h1v1h-1zM222 250h1v1h-1zM223 249h1v1h-1zM224 249h1v1h-1zM225 248h1v1h-1zM226 248h1v1h-1zM227 247h1v1h-1zM228 247h1v1h-1zM229 246h1v1h-1zM230 246h1v1h-1zM231 245h1v1h-1zM232 245h1v1h-1zM233 245h1v1h-1zM234 244h1v1h-1zM235 244h1v1h-1zM236 243h1v1h-1zM237 242h1v1h-1zM238 241h1v1h-1zM239 240h1v1h-1zM240 238h1v2h-1zM241 237h1v1h-1zM242 236h1v1h-1zM243 234h1v2h-1zM244 233h1v1h-1zM245 232h1v1h-1zM246 230h1v2h-1zM247 229h1v1h-1zM248 227h1v2h-1zM249 226h1v1h-1zM250 224h1v2h-1zM251 223h1v1h-1zM252 221h1v2h-1zM253 219h1v2h-1zM254 218h1v1h-1zM255 216h1v2h-1zM256 214h1v2h-1zM257 213h1v1h-1zM258 211h1v2h-1zM259 210h1v1h-1zM260 208h1v2h-1zM261 207h1v1h-1zM262 205h1v2h-1zM263 204h1v1h-1zM264 203h1v1h-1zM265 203h1v1h-1zM266 203h1v1h-1zM267 202h1v1h-1zM268 201h1v1h-1zM269 200h1v1h-1zM270 199h1v1h-1zM271 199h1v1h-1zM272 198h1v1h-1zM273 197h1v1h-1zM274 196h1v1h-1zM275 196h1v1h-1zM276 195h1v1h-1zM277 195h1v1h-1zM278 194h1v1h-1zM279 194h1v1h-1zM280 193h1v1h-1zM281 193h1v1h-1zM282 192h1v1h-1zM283 192h1v1h-1zM284 192h1v1h-1zM285 192h1v1h-1zM286 192h1v1h-1zM287 192h1v1h-1zM288 192h1v1h-1zM289 192h1v1h-1zM290 191h1v1h-1zM291 190h1v1h-1zM292 190h1v1h-1zM293 189h1v1h-1zM294 188h1v1h-1zM295 188h1v1h-1zM296 187h1v1h-1zM297 187h1v1h-1zM298 186h1v1h-1zM299 185h1v1h-1zM300 184h1v1h-1zM301 184h1v1h-1zM302 184h1v1h-1zM303 183h1v1h-1zM304 183h1v1h-1zM305 183h1v1h-1zM306 183h1v1h-1zM307 183h1v1h-1zM308 183h1v1h-1zM309 183h1v1h-1zM310 183h1v1h-1zM311 183h1v1h-1zM312 183h1v1h-1zM313 183h1v1h-1zM314 183h1v1h-1zM315 183h1v1h-1zM316 184h1v1h-1zM317 184h1v1h-1zM318 184h1v1h-1zM319 185h1v1h-1zM320 185h1v1h-1zM321 186h1v1h-1zM322 186h1v1h-1zM323 187h1v1h-1zM324 187h1v1h-1zM325 188h1v1h-1zM326 188h1v1h-1zM327 189h1v1h-1zM328 189h1v1h-1zM329 190h1v1h-1zM330 190h1v1h-1zM331 191h1v1h-1zM332 191h1v1h-1zM333 192h1v1h-1zM334 192h1v1h-1zM335 192h1v1h-1zM336 192h1v1h-1zM337 192h1v1h-1zM338 192h1v1h-1zM339 192h1v1h-1zM340 193h1v1h-1zM341 192h1v1h-1zM342 192h1v1h-1zM343 192h1v1h-1zM344 192h1v1h-1zM345 192h1v1h-1zM346 192h1v1h-1zM347 192h1v1h-1zM348 192h1v1h-1zM349 192h1v1h-1zM350 192h1v1h-1zM351 193h1v1h-1zM352 193h1v1h-1zM353 194h1v1h-1zM354 194h1v1h-1zM355 195h1v1h-1zM356 195h1v1h-1zM357 196h1v1h-1zM358 197h1v1h-1zM359 198h1v1h-1zM360 198h1v1h-1zM361 199h1v1h-1zM362 200h1v1h-1zM363 201h1v1h-1zM364 202h1v1h-1zM365 203h1v1h-1zM366 204h1v1h-1zM367 205h1v1h-1zM368 206h1v1h-1zM369 207h1v2h-1zM370 208h1v1h-1zM371 209h1v1h-1zM372 210h1v1h-1zM373 211h1v1h-1zM374 212h1v1h-1zM375 212h1v1h-1zM376 212h1v1h-1zM377 213h1v1h-1zM378 213h1v1h-1zM379 213h1v1h-1zM380 214h1v1h-1zM381 214h1v1h-1zM382 215h1v1h-1zM383 215h1v1h-1zM384 216h1v1h-1zM385 216h1v1h-1zM386 217h1v1h-1zM387 217h1v1h-1zM388 218h1v1h-1zM389 219h1v1h-1zM390 219h1v1h-1zM391 219h1v1h-1zM392 220h1v1h-1zM393 220h1v1h-1zM394 220h1v1h-1zM395 220h1v1h-1zM396 220h1v1h-1zM397 220h1v1h-1zM398 220h1v1h-1zM399 220h1v1h-1zM400 220h1v1h-1zM401 220h1v1h-1zM402 220h1v1h-1zM403 220h1v1h-1zM404 220h1v1h-1zM405 220h1v1h-1zM406 220h1v1h-1zM407 220h1v1h-1zM408 220h1v1h-1zM409 219h1v1h-1zM410 219h1v1h-1zM411 219h1v1h-1zM412 219h1v1h-1zM413 218h1v1h-1zM414 218h1v1h-1zM415 218h1v1h-1zM416 218h1v1h-1zM417 218h1v1h-1zM418 217h1v1h-1zM419 217h1v1h-1zM420 216h1v1h-1zM421 216h1v1h-1zM422 216h1v1h-1zM423 215h1v1h-1zM424 215h1v1h-1zM425 215h1v1h-1zM426 214h1v1h-1zM427 214h1v1h-1zM428 214h1v1h-1zM429 214h1v1h-1zM430 213h1v1h-1zM431 213h1v1h-1zM432 213h1v1h-1zM433 213h1v1h-1zM434 213h1v1h-1zM435 213h1v1h-1zM436 213h1v1h-1zM437 213h1v1h-1zM438 214h1v1h-1zM439 214h1v1h-1zM440 214h1v1h-1zM441 214h1v1h-1zM442 214h1v1h-1zM443 214h1v1h-1zM444 214h1v1h-1zM445 214h1v1h-1zM446 214h1v1h-1zM447 214h1v1h-1zM448 214h1v1h-1zM449 215h1v1h-1zM450 215h1v1h-1zM451 215h1v1h-1zM452 216h1v1h-1zM453 216h1v1h-1zM454 217h1v1h-1zM455 217h1v1h-1zM456 217h1v1h-1zM457 218h1v1h-1zM458 218h1v1h-1zM459 219h1v1h-1zM460 219h1v1h-1zM461 219h1v1h-1zM462 220h1v1h-1zM463 220h1v1h-1zM464 221h1v1h-1zM465 221h1v1h-1zM466 221h1v1h-1zM467 222h1v1h-1zM468 222h1v1h-1zM469 223h1v1h-1zM470 223h1v1h-1zM471 223h1v1h-1zM472 224h1v1h-1zM473 224h1v1h-1zM474 225h1v1h-1zM475 225h1v1h-1zM476 225h1v1h-1zM477 226h1v1h-1zM478 226h1v1h-1zM479 227h1v1h-1zM480 227h1v1h-1zM481 227h1v1h-1zM482 228h1v1h-1zM483 228h1v1h-1zM484 228h1v1h-1zM485 228h1v1h-1zM486 228h1v1h-1zM487 229h1v1h-1zM488 229h1v1h-1zM489 229h1v1h-1zM490 229h1v1h-1zM491 229h1v1h-1zM492 229h1v1h-1zM493 229h1v1h-1zM494 229h1v1h-1zM495 229h1v1h-1zM496 229h1v1h-1zM497 229h1v1h-1zM498 229h1v1h-1zM499 229h1v1h-1zM500 229h1v1h-1zM501 229h1v1h-1zM502 229h1v1h-1zM503 229h1v1h-1zM504 229h1v1h-1zM505 228h1v1h-1zM506 228h1v1h-1zM507 227h1v1h-1zM508 227h1v1h-1zM509 227h1v1h-1zM510 226h1v1h-1zM511 226h1v1h-1zM512 226h1v1h-1zM513 225h1v1h-1zM514 225h1v1h-1zM515 225h1v1h-1zM516 224h1v1h-1zM517 223h1v1h-1zM518 223h1v1h-1zM519 222h1v1h-1zM520 222h1v1h-1zM521 221h1v1h-1zM522 221h1v1h-1zM523 220h1v1h-1zM524 219h1v1h-1zM525 218h1v1h-1zM526 217h1v1h-1zM527 216h1v1h-1zM528 216h1v1h-1zM529 215h1v1h-1zM530 214h1v1h-1zM531 213h1v1h-1zM532 212h1v1h-1zM533 211h1v1h-1zM534 210h1v1h-1zM535 209h1v1h-1zM536 208h1v1h-1zM537 207h1v1h-1zM538 206h1v1h-1zM539 205h1v1h-1zM540 205h1v1h-1zM541 204h1v1h-1zM542 204h1v1h-1zM543 203h1v1h-1zM544 202h1v1h-1zM545 201h1v1h-1zM546 200h1v1h-1zM547 199h1v1h-1zM548 199h1v1h-1zM549 198h1v1h-1zM550 198h1v1h-1zM551 197h1v1h-1zM552 197h1v1h-1zM553 196h1v1h-1zM554 196h1v1h-1zM555 195h1v1h-1zM556 195h1v1h-1zM557 195h1v1h-1zM558 194h1v1h-1zM559 194h1v1h-1zM560 194h1v1h-1zM561 194h1v1h-1zM562 194h1v1h-1zM563 193h1v1h-1zM564 193h1v1h-1zM565 193h1v1h-1zM566 193h1v1h-1zM567 194h1v1h-1zM568 194h1v1h-1zM569 194h1v1h-1zM570 195h1v1h-1zM571 195h1v1h-1zM572 195h1v1h-1zM573 196h1v1h-1zM574 196h1v1h-1zM575 196h1v1h-1zM576 197h1v1h-1zM577 197h1v1h-1zM578 197h1v1h-1zM579 198h1v1h-1zM580 198h1v1h-1zM581 198h1v1h-1zM582 198h1v1h-1zM583 198h1v1h-1zM584 198h1v1h-1zM585 199h1v1h-1zM586 199h1v1h-1zM587 199h1v1h-1zM588 199h1v1h-1zM589 199h1v1h-1zM590 200h1v1h-1zM591 200h1v1h-1zM592 200h1v1h-1zM593 200h1v1h-1zM594 200h1v1h-1zM595 200h1v1h-1zM596 200h1v1h-1zM597 200h1v1h-1zM598 200h1v1h-1zM599 200h1v1h-1zM600 200h1v1h-1zM601 201h1v1h-1zM602 202h1v1h-1zM603 203h1v1h-1zM604 204h1v1h-1zM605 205h1v1h-1zM606 206h1v1h-1zM607 207h1v1h-1zM608 208h1v1h-1zM609 209h1v1h-1zM610 210h1v2h-1zM611 212h1v1h-1zM612 213h1v1h-1zM613 214h1v2h-1zM614 216h1v1h-1zM615 217h1v2h-1zM616 219h1v2h-1zM617 221h1v2h-1zM618 223h1v2h-1zM619 225h1v2h-1zM620 227h1v2h-1zM621 229h1v2h-1zM622 231h1v2h-1zM623 233h1v2h-1zM624 235h1v2h-1zM625 237h1v2h-1zM626 239h1v2h-1zM627 241h1v2h-1zM628 243h1v2h-1zM629 245h1v2h-1zM630 247h1v2h-1zM631 249h1v2h-1zM632 251h1v2h-1zM633 253h1v3h-1zM634 256h1v2h-1zM635 258h1v3h-1zM636 261h1v2h-1zM637 263h1v2h-1zM638 265h1v2h-1zM639 267h1v2h-1zM640 269h1v2h-1zM641 271h1v2h-1zM642 273h1v2h-1zM643 275h1v2h-1zM644 277h1v2h-1zM645 279h1v2h-1zM646 281h1v2h-1zM647 283h1v2h-1zM648 285h1v2h-1zM649 287h1v2h-1zM650 289h1v2h-1zM651 291h1v2h-1zM652 293h1v2h-1zM653 295h1v1h-1zM654 296h1v1h-1zM655 297h1v1h-1zM656 298h1v2h-1zM657 300h1v1h-1zM658 301h1v1h-1zM659 302h1v1h-1zM660 303h1v1h-1zM661 304h1v2h-1zM662 306h1v2h-1zM663 308h1v1h-1zM664 309h1v2h-1zM665 311h1v1h-1zM666 312h1v2h-1zM667 314h1v2h-1zM668 316h1v1h-1zM669 317h1v2h-1zM670 319h1v2h-1zM671 321h1v1h-1zM672 322h1v1h-1zM673 323h1v2h-1zM674 325h1v1h-1zM675 326h1v1h-1zM676 327h1v2h-1zM677 329h1v1h-1zM678 330h1v2h-1zM679 332h1v1h-1zM680 333h1v1h-1zM681 334h1v1h-1zM682 335h1v2h-1zM683 337h1v1h-1zM684 338h1v1h-1zM685 339h1v1h-1zM686 340h1v2h-1zM687 342h1v1h-1zM688 343h1v1h-1zM689 344h1v1h-1zM690 345h1v1h-1zM691 346h1v2h-1zM692 348h1v1h-1zM693 349h1v1h-1zM694 350h1v1h-1zM695 351h1v1h-1zM696 352h1v1h-1zM697 353h1v1h-1zM698 354h1v1h-1zM699 355h1v1h-1zM700 356h1v1h-1zM701 357h1v2h-1zM702 359h1v1h-1zM703 360h1v1h-1zM704 361h1v1h-1zM705 362h1v1h-1zM706 363h1v1h-1zM707 364h1v1h-1zM708 365h1v1h-1zM709 366h1v2h-1zM710 368h1v2h-1zM711 370h1v1h-1zM712 371h1v2h-1zM713 373h1v1h-1zM714 374h1v2h-1zM715 376h1v2h-1zM716 378h1v1h-1zM717 379h1v2h-1zM718 381h1v1h-1zM719 382h1v2h-1zM720 384h1v2h-1zM721 386h1v1h-1zM722 387h1v1h-1zM723 388h1v2h-1zM724 390h1v1h-1zM725 391h1v2h-1zM726 393h1v1h-1zM727 394h1v1h-1zM728 395h1v2h-1zM729 397h1v1h-1zM730 398h1v2h-1zM731 400h1v1h-1zM732 401h1v1h-1zM733 402h1v2h-1zM734 404h1v1h-1zM735 405h1v1h-1zM736 406h1v1h-1zM737 407h1v1h-1zM738 408h1v1h-1zM739 409h1v1h-1zM740 410h1v1h-1zM741 411h1v1h-1zM742 412h1v1h-1zM743 413h1v2h-1zM744 415h1v1h-1zM745 416h1v1h-1zM746 416h1v1h-1zM747 417h1v1h-1zM748 418h1v1h-1zM749 418h1v1h-1zM750 419h1v1h-1zM751 420h1v1h-1zM752 420h1v1h-1zM753 421h1v1h-1zM754 421h1v1h-1zM755 422h1v1h-1zM756 423h1v1h-1zM757 424h1v1h-1zM758 424h1v1h-1zM759 425h1v1h-1zM760 426h1v1h-1zM761 427h1v1h-1zM762 428h1v1h-1zM763 428h1v1h-1zM764 429h1v1h-1zM765 430h1v1h-1zM766 431h1v1h-1zM767 432h1v1h-1zM768 433h1v1h-1zM769 434h1v1h-1zM770 435h1v1h-1zM771 436h1v1h-1zM772 437h1v1h-1zM773 438h1v1h-1zM774 439h1v1h-1zM775 440h1v1h-1zM776 441h1v1h-1zM777 442h1v2h-1zM778 443h1v1h-1zM779 444h1v1h-1zM780 444h1v1h-1zM781 445h1v1h-1zM782 446h1v1h-1zM783 446h1v1h-1zM784 447h1v1h-1zM785 448h1v1h-1zM786 448h1v1h-1zM787 448h1v1h-1zM788 449h1v1h-1zM789 449h1v1h-1zM790 450h1v1h-1zM791 450h1v1h-1zM792 450h1v1h-1zM793 451h1v1h-1zM794 451h1v1h-1zM795 452h1v1h-1zM796 452h1v1h-1zM797 452h1v1h-1zM798 453h1v1h-1zM799 453h1v1h-1zM800 453h1v1h-1zM801 454h1v1h-1zM802 454h1v1h-1zM803 455h1v1h-1zM804 456h1v1h-1zM805 457h1v1h-1zM806 458h1v1h-1zM807 458h1v1h-1zM808 459h1v1h-1zM809 459h1v1h-1zM810 460h1v1h-1zM811 460h1v1h-1zM812 461h1v1h-1zM813 462h1v1h-1zM814 462h1v1h-1zM815 463h1v1h-1zM816 463h1v1h-1zM817 464h1v1h-1zM818 464h1v1h-1zM819 465h1v1h-1zM820 466h1v1h-1zM821 466h1v1h-1zM822 466h1v1h-1zM823 467h1v1h-1zM824 467h1v1h-1zM825 467h1v1h-1zM826 468h1v1h-1zM827 468h1v1h-1zM828 468h1v1h-1zM829 469h1v1h-1zM830 469h1v1h-1zM831 469h1v1h-1zM832 470h1v1h-1zM833 470h1v1h-1zM834 470h1v1h-1zM835 471h1v1h-1zM836 471h1v1h-1zM837 471h1v1h-1zM838 472h1v1h-1zM839 472h1v1h-1zM840 472h1v1h-1zM841 472h1v1h-1zM842 473h1v1h-1zM843 473h1v1h-1zM844 473h1v1h-1zM845 474h1v1h-1zM846 474h1v1h-1zM847 474h1v1h-1zM848 474h1v1h-1zM849 475h1v1h-1zM850 475h1v1h-1zM851 475h1v1h-1zM852 475h1v1h-1zM853 476h1v1h-1zM854 476h1v1h-1zM855 476h1v1h-1zM856 476h1v1h-1zM857 477h1v1h-1zM858 477h1v1h-1zM859 477h1v1h-1zM860 478h1v1h-1zM861 478h1v1h-1zM862 478h1v1h-1zM863 478h1v1h-1zM864 478h1v1h-1zM865 478h1v1h-1zM866 478h1v1h-1zM867 478h1v1h-1zM868 478h1v1h-1zM869 478h1v1h-1zM870 478h1v1h-1zM871 478h1v1h-1zM872 479h1v1h-1zM873 479h1v1h-1zM874 479h1v1h-1zM875 479h1v1h-1zM876 479h1v1h-1zM877 479h1v1h-1zM878 479h1v1h-1zM879 479h1v1h-1zM880 479h1v1h-1zM881 479h1v1h-1zM882 479h1v1h-1zM883 479h1v1h-1zM884 479h1v1h-1zM885 480h1v1h-1zM886 480h1v1h-1zM887 480h1v1h-1zM888 480h1v1h-1zM889 480h1v1h-1zM890 480h1v1h-1zM891 480h1v1h-1zM892 480h1v1h-1zM893 480h1v1h-1zM894 480h1v1h-1zM895 480h1v1h-1zM896 480h1v1h-1zM897 480h1v1h-1zM898 481h1v1h-1zM899 481h1v1h-1zM900 481h1v1h-1zM901 481h1v1h-1zM902 482h1v1h-1zM903 482h1v1h-1zM904 482h1v1h-1zM905 482h1v1h-1zM906 482h1v1h-1zM907 483h1v1h-1zM908 483h1v1h-1zM909 483h1v1h-1zM910 483h1v1h-1zM911 483h1v1h-1zM912 484h1v1h-1zM913 484h1v1h-1zM914 484h1v1h-1zM915 484h1v1h-1zM916 484h1v1h-1zM917 484h1v1h-1zM918 485h1v1h-1zM919 485h1v1h-1zM920 485h1v1h-1zM921 485h1v1h-1zM922 485h1v1h-1zM923 485h1v1h-1zM924 485h1v1h-1zM925 485h1v1h-1zM926 485h1v1h-1zM927 485h1v1h-1zM928 484h1v1h-1zM929 484h1v1h-1zM930 484h1v1h-1zM931 483h1v1h-1zM932 483h1v1h-1zM933 483h1v1h-1zM934 482h1v1h-1zM935 481h1v1h-1zM936 480h1v1h-1zM937 479h1v1h-1zM938 478h1v1h-1zM939 477h1v1h-1zM940 476h1v1h-1zM941 475h1v1h-1zM942 474h1v1h-1zM943 473h1v1h-1zM944 473h1v1h-1zM945 472h1v1h-1zM946 472h1v1h-1zM947 471h1v1h-1zM948 470h1v1h-1zM949 470h1v1h-1zM950 469h1v1h-1zM951 469h1v1h-1zM952 468h1v1h-1zM953 468h1v1h-1zM954 467h1v1h-1zM955 467h1v1h-1zM956 466h1v1h-1zM957 466h1v1h-1zM958 465h1v1h-1zM959 464h1v1h-1zM960 464h1v1h-1zM961 463h1v1h-1zM962 462h1v1h-1zM963 461h1v1h-1zM964 461h1v1h-1zM965 460h1v1h-1zM966 459h1v1h-1zM967 459h1v1h-1zM968 458h1v1h-1zM969 458h1v1h-1zM970 458h1v1h-1zM971 457h1v1h-1zM972 457h1v1h-1zM973 456h1v1h-1zM974 456h1v1h-1zM975 455h1v1h-1zM976 455h1v1h-1zM977 454h1v1h-1zM978 454h1v1h-1zM979 453h1v1h-1zM980 453h1v1h-1zM981 452h1v1h-1zM982 452h1v1h-1zM983 451h1v1h-1zM984 451h1v1h-1zM985 450h1v1h-1zM986 450h1v1h-1zM987 450h1v1h-1zM988 449h1v1h-1zM989 449h1v1h-1zM990 449h1v1h-1zM991 449h1v1h-1zM992 449h1v1h-1zM993 449h1v1h-1zM994 449h1v1h-1zM995 448h1v1h-1zM996 448h1v1h-1zM997 448h1v1h-1zM998 448h1v1h-1zM999 447h1v1h-1zM1000 447h1v1h-1zM1001 447h1v1h-1zM1002 447h1v1h-1zM1003 446h1v1h-1zM1004 446h1v1h-1zM1005 446h1v1h-1zM1006 446h1v1h-1zM1007 446h1v1h-1zM1008 446h1v1h-1zM1009 446h1v1h-1zM1010 446h1v1h-1zM1011 446h1v1h-1zM1012 446h1v1h-1zM1013 446h1v1h-1zM1014 446h1v1h-1zM1015 446h1v1h-1z" fill="#a31818"/>
<rect x="1" y="30" width="1025" height="1" fill="#000"/>
<rect x="1" y="544" width="1025" height="1" fill="#000"/>
<rect x="1" y="30" width="1" height="515" fill="#000"/>
<rect x="1025" y="30" width="1" height="515" fill="#000"/>
<rect x="1026" y="540" width="1" height="1" fill="#000"/>
<rect x="0" y="540" width="1" height="1" fill="#000"/>
<rect x="1026" y="533" width="1" height="1" fill="#000"/>
<rect x="0" y="533" width="1" height="1" fill="#000"/>
<rect x="1026" y="526" width="2" height="1" fill="#000"/>
<rect x="0" y="526" width="1" height="1" fill="#000"/>
<rect x="1026" y="519" width="1" height="1" fill="#000"/>
<rect x="0" y="519" width="1" height="1" fill="#000"/>
<rect x="1026" y="512" width="1" height="1" fill="#000"/>
<rect x="0" y="512" width="1" height="1" fill="#000"/>
<rect x="1026" y="505" width="1" height="1" fill="#000"/>
<rect x="0" y="505" width="1" height="1" fill="#000"/>
<rect x="1026" y="498" width="1" height="1" fill="#000"/>
<rect x="0" y="498" width="1" height="1" fill="#000"/>
<rect x="1026" y="491" width="2" height="1" fill="#000"/>
<rect x="0" y="491" width="1" height="1" fill="#000"/>
<rect x="1026" y="483" width="1" height="1" fill="#000"/>
<rect x="0" y="483" width="1" height="1" fill="#000"/>
<rect x="1026" y="476" width="1" height="1" fill="#000"/>
<rect x="0" y="476" width="1" height="1" fill="#000"/>
<rect x="1026" y="469" width="1" height="1" fill="#000"/>
<rect x="0" y="469" width="1" height="1" fill="#000"/>
<rect x="1026" y="462" width="1" height="1" fill="#000"/>
<rect x="0" y="462" width="1" height="1" fill="#000"/>
<rect x="1026" y="455" width="2" height="1" fill="#000"/>
<rect x="0" y="455" width="1" height="1" fill="#000"/>
<rect x="1026" y="448" width="1" height="1" fill="#000"/>
<rect x="0" y="448" width="1" height="1" fill="#000"/>
<rect x="1026" y="441" width="1" height="1" fill="#000"/>
<rect x="0" y="441" width="1" height="1" fill="#000"/>
<rect x="1026" y="434" width="1" height="1" fill="#000"/>
<rect x="0" y="434" width="1" height="1" fill="#000"/>
<rect x="1026" y="427" width="1" height="1" fill="#000"/>
<rect x="0" y="427" width="1" height="1" fill="#000"/>
<rect x="1026" y="420" width="2" height="1" fill="#000"/>
<rect x="0" y="420" width="1" height="1" fill="#000"/>
<rect x="1026" y="413" width="1" height="1" fill="#000"/>
<rect x="0" y="413" width="1" height="1" fill="#000"/>
<rect x="1026" y="406" width="1" height="1" fill="#000"/>
<rect x="0" y="406" width="1" height="1" fill="#000"/>
<rect x="1026" y="399" width="1" height="1" fill="#000"/>
<rect x="0" y="399" width="1" height="1" fill="#000"/>
<rect x="1026" y="392" width="1" height="1" fill="#000"/>
<rect x="0" y="392" width="1" height="1" fill="#000"/>
<rect x="1026" y="385" width="2" height="1" fill="#000"/>
<rect x="0" y="385" width="1" height="1" fill="#000"/>
<rect x="1026" y="378" width="1" height="1" fill="#000"/>
<rect x="0" y="378" width="1" height="1" fill="#000"/>
<rect x="1026" y="371" width="1" height="1" fill="#000"/>
<rect x="0" y="371" width="1" height="1" fill="#000"/>
<rect x="1026" y="364" width="1" height="1" fill="#000"/>
<rect x="0" y="364" width="1" height="1" fill="#000"/>
<rect x="1026" y="356" width="1" height="1" fill="#000"/>
<rect x="0" y="356" width="1" height="1" fill="#000"/>
<rect x="1026" y="349" width="2" height="1" fill="#000"/>
<rect x="0" y="349" width="1" height="1" fill="#000"/>
<rect x="1026" y="342" width="1" height="1" fill="#000"/>
<rect x="0" y="342" width="1" height="1" fill="#000"/>
<rect x="1026" y="335" width="1" height="1" fill="#000"/>
<rect x="0" y="335" width="1" height="1" fill="#000"/>
<rect x="1026" y="328" width="1" height="1" fill="#000"/>
<rect x="0" y="328" width="1" height="1" fill="#000"/>
<rect x="1026" y="321" width="1" height="1" fill="#000"/>
<rect x="0" y="321" width="1" height="1" fill="#000"/>
<rect x="1026" y="314" width="2" height="1" fill="#000"/>
<rect x="0" y="314" width="1" height="1" fill="#000"/>
<rect x="1026" y="307" width="1" height="1" fill="#000"/>
<rect x="0" y="307" width="1" height="1" fill="#000"/>
<rect x="1026" y="300" width="1" height="1" fill="#000"/>
<rect x="0" y="300" width="1" height="1" fill="#000"/>
<rect x="1026" y="293" width="1" height="1" fill="#000"/>
<rect x="0" y="293" width="1" height="1" fill="#000"/>
<rect x="1026" y="286" width="1" height="1" fill="#000"/>
<rect x="0" y="286" width="1" height="1" fill="#000"/>
<rect x="1026" y="279" width="2" height="1" fill="#000"/>
<rect x="0" y="279" width="1" height="1" fill="#000"/>
<rect x="1026" y="272" width="1" height="1" fill="#000"/>
<rect x="0" y="272" width="1" height="1" fill="#000"/>
<rect x="1026" y="265" width="1" height="1" fill="#000"/>
<rect x="0" y="265" width="1" height="1" fill="#000"/>
<rect x="1026" y="258" width="1" height="1" fill="#000"/>
<rect x="0" y="258" width="1" height="1" fill="#000"/>
<rect x="1026" y="251" width="1" height="1" fill="#000"/>
<rect x="0" y="251" width="1" height="1" fill="#000"/>
<rect x="1026" y="244" width="2" height="1" fill="#000"/>
<rect x="0" y="244" width="1" height="1" fill="#000"/>
<rect x="1026" y="237" width="1" height="1" fill="#000"/>
<rect x="0" y="237" width="1" height="1" fill="#000"/>
<rect x="1026" y="229" width="1" height="1" fill="#000"/>
<rect x="0" y="229" width="1" height="1" fill="#000"/>
<rect x="1026" y="222" width="1" height="1" fill="#000"/>
<rect x="0" y="222" width="1" height="1" fill="#000"/>
<rect x="1026" y="215" width="1" height="1" fill="#000"/>
<rect x="0" y="215" width="1" height="1" fill="#000"/>
<rect x="1026" y="208" width="2" height="1" fill="#000"/>
<rect x="0" y="208" width="1" height="1" fill="#000"/>
<rect x="1026" y="201" width="1" height="1" fill="#000"/>
<rect x="0" y="201" width="1" height="1" fill="#000"/>
<rect x="1026" y="194" width="1" height="1" fill="#000"/>
<rect x="0" y="194" width="1" height="1" fill="#000"/>
<rect x="1026" y="187" width="1" height="1" fill="#000"/>
<rect x="0" y="187" width="1" height="1" fill="#000"/>
<rect x="1026" y="180" width="1" height="1" fill="#000"/>
<rect x="0" y="180" width="1" height="1" fill="#000"/>
<rect x="1026" y="173" width="2" height="1" fill="#000"/>
<rect x="0" y="173" width="1" height="1" fill="#000"/>
<rect x="1026" y="166" width="1" height="1" fill="#000"/>
<rect x="0" y="166" width="1" height="1" fill="#000"/>
<rect x="1026" y="159" width="1" height="1" fill="#000"/>
<rect x="0" y="159" width="1" height="1" fill="#000"/>
<rect x="1026" y="152" width="1" height="1" fill="#000"/>
<rect x="0" y="152" width="1" height="1" fill="#000"/>
<rect x="1026" y="145" width="1" height="1" fill="#000"/>
<rect x="0" y="145" width="1" height="1" fill="#000"/>
<rect x="1026" y="138" width="2" height="1" fill="#000"/>
<rect x="0" y="138" width="1" height="1" fill="#000"/>
<rect x="1026" y="131" width="1" height="1" fill="#000"/>
<rect x="0" y="131" width="1" height="1" fill="#000"/>
<rect x="1026" y="124" width="1" height="1" fill="#000"/>
<rect x="0" y="124" width="1" height="1" fill="#000"/>
<rect x="1026" y="117" width="1" height="1" fill="#000"/>
<rect x="0" y="117" width="1" height="1" fill="#000"/>
<rect x="1026" y="110" width="1" height="1" fill="#000"/>
<rect x="0" y="110" width="1" height="1" fill="#000"/>
<rect x="1026" y="103" width="2" height="1" fill="#000"/>
<rect x="0" y="103" width="1" height="1" fill="#000"/>
<rect x="1026" y="95" width="1" height="1" fill="#000"/>
<rect x="0" y="95" width="1" height="1" fill="#000"/>
<rect x="1026" y="88" width="1" height="1" fill="#000"/>
<rect x="0" y="88" width="1" height="1" fill="#000"/>
<rect x="1026" y="81" width="1" height="1" fill="#000"/>
<rect x="0" y="81" width="1" height="1" fill="#000"/>
<rect x="1026" y="74" width="1" height="1" fill="#000"/>
<rect x="0" y="74" width="1" height="1" fill="#000"/>
<rect x="1026" y="67" width="2" height="1" fill="#000"/>
<rect x="0" y="67" width="1" height="1" fill="#000"/>
<rect x="1026" y="60" width="1" height="1" fill="#000"/>
<rect x="0" y="60" width="1" height="1" fill="#000"/>
<rect x="1026" y="53" width="1" height="1" fill="#000"/>
<rect x="0" y="53" width="1" height="1" fill="#000"/>
<rect x="1026" y="46" width="1" height="1" fill="#000"/>
<rect x="0" y="46" width="1" height="1" fill="#000"/>
<rect x="1026" y="39" width="1" height="1" fill="#000"/>
<rect x="0" y="39" width="1" height="1" fill="#000"/>
<rect x="1026" y="32" width="2" height="1" fill="#000"/>
<rect x="0" y="32" width="1" height="1" fill="#000"/>
<rect x="10" y="545" width="1" height="3" fill="#000"/>
<rect x="14" y="545" width="1" height="3" fill="#000"/>
<rect x="60" y="545" width="1" height="3" fill="#000"/>
<rect x="111" y="545" width="1" height="3" fill="#000"/>
<rect x="165" y="545" width="1" height="3" fill="#000"/>
<rect x="216" y="545" width="1" height="3" fill="#000"/>
<rect x="266" y="545" width="1" height="3" fill="#000"/>
<rect x="317" y="545" width="1" height="3" fill="#000"/>
<rect x="367" y="545" width="1" height="3" fill="#000"/>
<rect x="417" y="545" width="1" height="3" fill="#000"/>
<rect x="468" y="545" width="1" height="3" fill="#000"/>
<rect x="518" y="545" width="1" height="3" fill="#000"/>
<rect x="569" y="545" width="1" height="3" fill="#000"/>
<rect x="619" y="545" width="1" height="3" fill="#000"/>
<rect x="670" y="545" width="1" height="3" fill="#000"/>
<rect x="720" y="545" width="1" height="3" fill="#000"/>
<rect x="771" y="545" width="1" height="3" fill="#000"/>
<rect x="821" y="545" width="1" height="3" fill="#000"/>
<rect x="871" y="545" width="1" height="3" fill="#000"/>
<rect x="922" y="545" width="1" height="3" fill="#000"/>
<rect x="972" y="545" width="1" height="3" fill="#000"/>
</g>
<g mask="url(#tm)">
<text x="10" y="21" font-size="16.93" fill="#000" stroke="#000" stroke-width="0.35">Sport Direct Int. (SPD LN EQUITY) 370.50 <tspan fill="#0000ff" stroke="#0000ff">1.6</tspan></text>
<text x="1075" y="20" font-size="15.5" fill="#2a2a2a" text-anchor="end">2017-12-18</text>
<text transform="translate(10,45) scale(1.05,1)" font-size="13.3" fill="#0000dd">Weekly</text>
<text transform="translate(10.3,64.8) scale(1.045,1)" font-size="13.3" fill="#a31818">EMA 200</text>
<text x="1030" y="531.0" font-size="12.6" fill="#222">250</text>
<text x="1030" y="496.0" font-size="12.6" fill="#222">300</text>
<text x="1030" y="460.0" font-size="12.6" fill="#222">350</text>
<text x="1030" y="425.0" font-size="12.6" fill="#222">400</text>
<text x="1030" y="390.0" font-size="12.6" fill="#222">450</text>
<text x="1030" y="354.0" font-size="12.6" fill="#222">500</text>
<text x="1030" y="319.0" font-size="12.6" fill="#222">550</text>
<text x="1030" y="284.0" font-size="12.6" fill="#222">600</text>
<text x="1030" y="249.0" font-size="12.6" fill="#222">650</text>
<text x="1030" y="213.0" font-size="12.6" fill="#222">700</text>
<text x="1030" y="178.0" font-size="12.6" fill="#222">750</text>
<text x="1030" y="143.0" font-size="12.6" fill="#222">800</text>
<text x="1030" y="108.0" font-size="12.6" fill="#222">850</text>
<text x="1030" y="72.0" font-size="12.6" fill="#222">900</text>
<text x="1030" y="37.0" font-size="12.6" fill="#222">950</text>
<text x="61.5" y="562.5" font-size="12.5" fill="#222" text-anchor="middle">Apr</text>
<text x="112.5" y="562.5" font-size="12.5" fill="#222" text-anchor="middle">Jul</text>
<text x="166.5" y="562.5" font-size="12.5" fill="#222" text-anchor="middle">Oct</text>
<text x="217.5" y="562.5" font-size="12.5" fill="#222" text-anchor="middle">2014</text>
<text x="267.5" y="562.5" font-size="12.5" fill="#222" text-anchor="middle">Apr</text>
<text x="318.5" y="562.5" font-size="12.5" fill="#222" text-anchor="middle">Jul</text>
<text x="368.5" y="562.5" font-size="12.5" fill="#222" text-anchor="middle">Oct</text>
<text x="418.5" y="562.5" font-size="12.5" fill="#222" text-anchor="middle">2015</text>
<text x="469.5" y="562.5" font-size="12.5" fill="#222" text-anchor="middle">Apr</text>
<text x="519.5" y="562.5" font-size="12.5" fill="#222" text-anchor="middle">Jul</text>
<text x="570.5" y="562.5" font-size="12.5" fill="#222" text-anchor="middle">Oct</text>
<text x="620.5" y="562.5" font-size="12.5" fill="#222" text-anchor="middle">2016</text>
<text x="671.5" y="562.5" font-size="12.5" fill="#222" text-anchor="middle">Apr</text>
<text x="721.5" y="562.5" font-size="12.5" fill="#222" text-anchor="middle">Jul</text>
<text x="772.5" y="562.5" font-size="12.5" fill="#222" text-anchor="middle">Oct</text>
<text x="822.5" y="562.5" font-size="12.5" fill="#222" text-anchor="middle">2017</text>
<text x="872.5" y="562.5" font-size="12.5" fill="#222" text-anchor="middle">Apr</text>
<text x="923.5" y="562.5" font-size="12.5" fill="#222" text-anchor="middle">Jul</text>
<text x="973.5" y="562.5" font-size="12.5" fill="#222" text-anchor="middle">Oct</text>
<text x="0.5" y="589.5" font-size="15" fill="#0000ff">www.fullertreacymoney.com</text>
<text x="1074" y="589.5" font-size="12.4" fill="#999" text-anchor="end">This website is © 2008-2017 Fuller Treacy Money plc. All rights reserved</text>
</g>
</svg></body></html>
